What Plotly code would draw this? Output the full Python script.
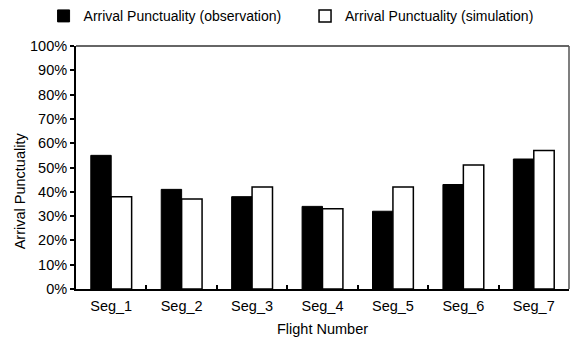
import plotly.graph_objects as go

categories = ["Seg_1", "Seg_2", "Seg_3", "Seg_4", "Seg_5", "Seg_6", "Seg_7"]
observation = [0.55, 0.41, 0.38, 0.34, 0.32, 0.43, 0.535]
simulation = [0.38, 0.37, 0.42, 0.33, 0.42, 0.51, 0.57]
y_ticks = [i / 10 for i in range(11)]
y_tick_labels = [f"{i*10}%" for i in range(11)]

FONT = "Liberation Sans, Arial, sans-serif"

fig = go.Figure()
fig.add_trace(go.Bar(
    x=categories, y=observation, name="Arrival Punctuality (observation)",
    marker=dict(color="#000000", line=dict(color="#000000", width=1)),
    legend="legend",
))
fig.add_trace(go.Bar(
    x=categories, y=simulation, name="Arrival Punctuality (simulation)",
    marker=dict(color="#ffffff", line=dict(color="#000000", width=1.5)),
    legend="legend2",
))

leg_common = dict(
    orientation="h", yanchor="middle", xanchor="left",
    font=dict(family=FONT, size=14, color="#000000"),
    bgcolor="rgba(0,0,0,0)", itemwidth=30,
)
PW = 571 - 75.5 - 1.5
PH = 342 - 44.7 - 53.3

fig.update_layout(
    width=571, height=342,
    margin=dict(l=75.5, r=1.5, t=44.7, b=53.3),
    paper_bgcolor="white", plot_bgcolor="white",
    barmode="group", bargap=0.42, bargroupgap=0,
    font=dict(family=FONT, size=14.5, color="#000000"),
    showlegend=True,
    legend=dict(x=(43 - 75.5) / PW, y=1 + (44.7 - 16) / PH, **leg_common),
    legend2=dict(x=(305 - 75.5) / PW, y=1 + (44.7 - 16) / PH, **leg_common),
    xaxis=dict(
        type="category", showline=True, linecolor="#000000", linewidth=2,
        ticks="inside", ticklen=4, tickwidth=1.5, tickcolor="#000000", tickson="boundaries",
        showgrid=False, zeroline=False, ticklabelstandoff=3,
        tickfont=dict(family=FONT, size=14.5, color="#000000"),
        title=dict(text="Flight Number", font=dict(family=FONT, size=14.5, color="#000000"), standoff=10),
    ),
    yaxis=dict(
        range=[0, 1], tickvals=y_ticks, ticktext=y_tick_labels,
        showline=True, linecolor="#000000", linewidth=2,
        ticks="outside", ticklen=4, tickwidth=1.5, tickcolor="#000000",
        showgrid=False, zeroline=False,
        tickfont=dict(family=FONT, size=14.5, color="#000000"),
    ),
    annotations=[
        dict(text="Arrival Punctuality", textangle=-90, xref="paper", yref="paper",
             x=(19 - 75.5) / PW, y=(288.7 - 190) / PH, xanchor="center", yanchor="middle",
             showarrow=False, font=dict(family=FONT, size=14.5, color="#000000")),
    ],
    shapes=[
        dict(type="line", xref="paper", yref="paper", x0=0, x1=1, y0=1, y1=1,
             line=dict(color="#333333", width=1.5)),
        dict(type="line", xref="paper", yref="paper", x0=1, x1=1, y0=0, y1=1,
             line=dict(color="#555555", width=1.5)),
    ],
)

fig.write_html("out.html")
